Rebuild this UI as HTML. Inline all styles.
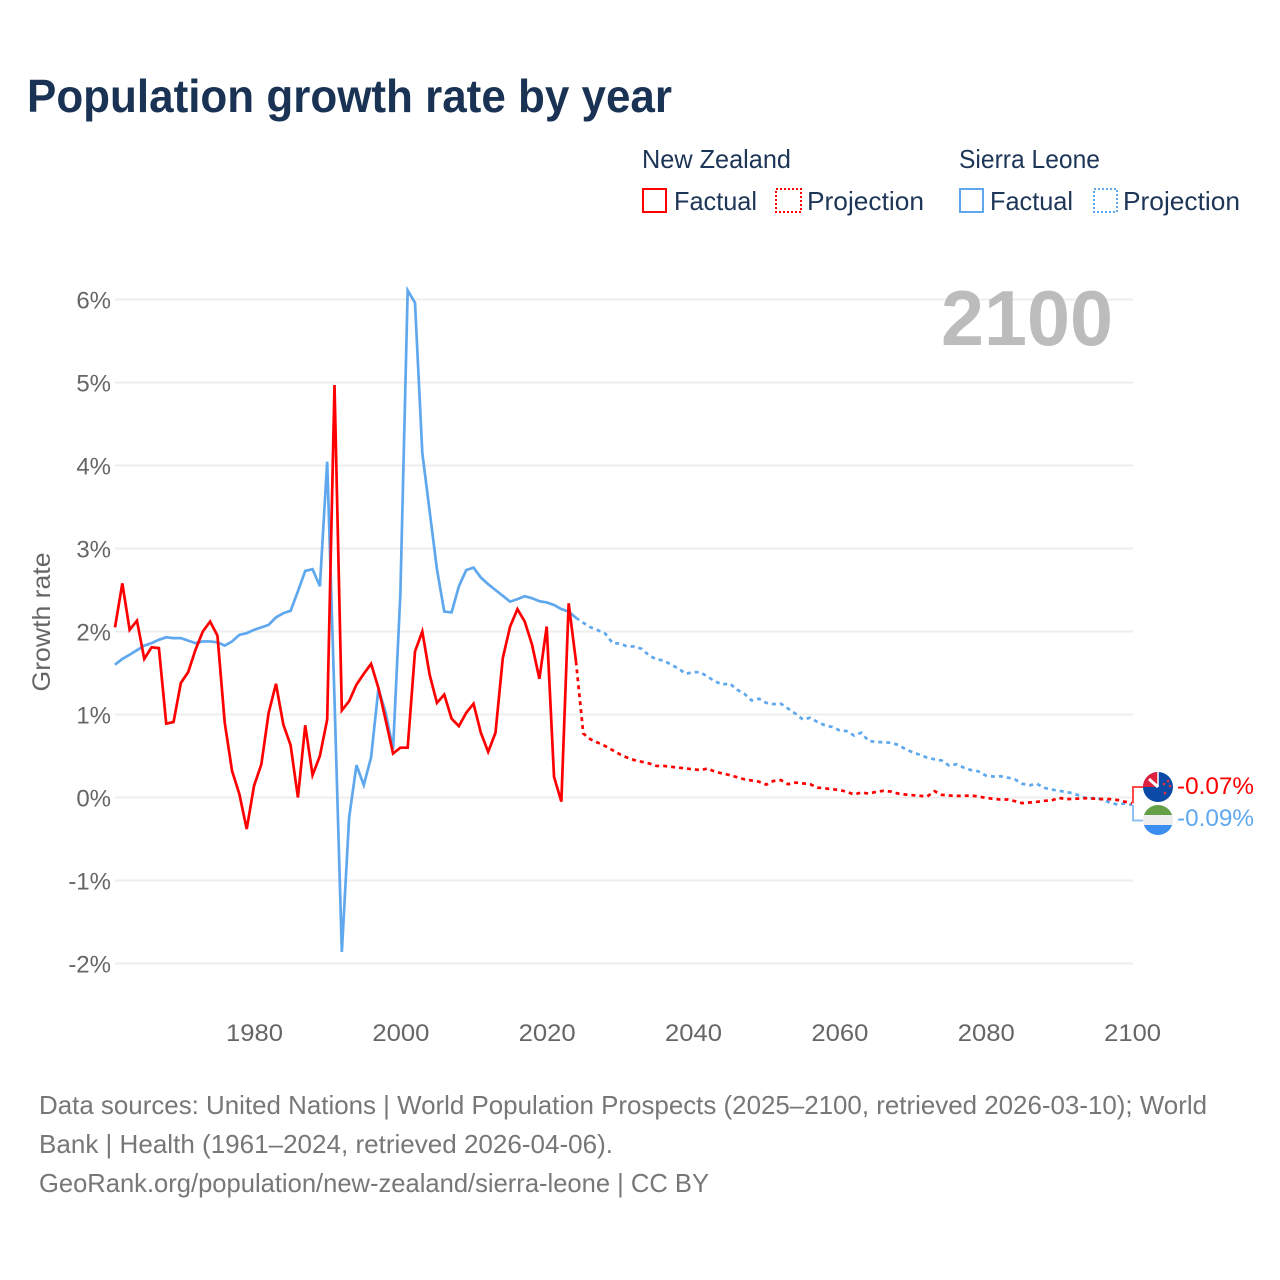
<!DOCTYPE html>
<html lang="en">
<head>
<meta charset="utf-8">
<title>Population growth rate by year</title>
<style>
html,body{margin:0;padding:0;background:#fff;width:1280px;height:1280px;overflow:hidden}
svg{display:block}
text{font-family:"Liberation Sans",sans-serif}
</style>
</head>
<body>
<svg id="chart" xmlns="http://www.w3.org/2000/svg" width="1280" height="1280" viewBox="0 0 1280 1280">
  <defs>
    <clipPath id="flag-clip-nz"><circle cx="1158" cy="787" r="15"/></clipPath>
    <clipPath id="flag-clip-sl"><circle cx="1158" cy="820" r="15"/></clipPath>
  </defs>
  <rect width="1280" height="1280" fill="#ffffff"/>
  <text x="27" y="112" font-size="46" font-weight="700" fill="#1a3254" textLength="645" lengthAdjust="spacingAndGlyphs">Population growth rate by year</text>

  <g font-size="26" fill="#1d3557">
    <text x="642" y="168" textLength="149" lengthAdjust="spacingAndGlyphs">New Zealand</text>
    <text x="959" y="168" textLength="141" lengthAdjust="spacingAndGlyphs">Sierra Leone</text>
    <rect x="643" y="189" width="23" height="23" fill="none" stroke="#ff0000" stroke-width="2"/>
    <text x="674" y="210" textLength="83" lengthAdjust="spacingAndGlyphs">Factual</text>
    <rect x="776" y="189" width="25" height="23" fill="none" stroke="#ff0000" stroke-width="2" stroke-dasharray="2 2"/>
    <text x="807" y="210" textLength="117" lengthAdjust="spacingAndGlyphs">Projection</text>
    <rect x="960" y="189" width="23" height="23" fill="none" stroke="#5fa8ee" stroke-width="2"/>
    <text x="990" y="210" textLength="83" lengthAdjust="spacingAndGlyphs">Factual</text>
    <rect x="1094" y="189" width="23" height="23" fill="none" stroke="#5fa8ee" stroke-width="2" stroke-dasharray="2 2"/>
    <text x="1123" y="210" textLength="117" lengthAdjust="spacingAndGlyphs">Projection</text>
  </g>

  <g id="grid"></g>
  <g id="y-axis"></g>
  <g id="x-axis"></g>
  <text transform="translate(50,622) rotate(-90)" text-anchor="middle" font-size="25" fill="#666666" textLength="139" lengthAdjust="spacingAndGlyphs">Growth rate</text>
  <text x="941" y="345" font-size="78" font-weight="700" fill="#bcbcbc" textLength="172" lengthAdjust="spacingAndGlyphs">2100</text>

  <g id="series"></g>

  <g clip-path="url(#flag-clip-nz)">
    <rect x="1143" y="772" width="30" height="30" fill="#0b4aa6"/>
    <rect x="1143" y="772" width="15" height="15" fill="#e0203f"/>
    <path d="M1149 779 L1158 787" stroke="#ffffff" stroke-width="3"/>
    <path d="M1158 772 L1158 787" stroke="#ffffff" stroke-width="1.5"/>
    <circle cx="1164" cy="784" r="1.3" fill="#e8323c"/>
    <circle cx="1168" cy="781" r="1.3" fill="#e8323c"/>
    <circle cx="1170" cy="786" r="1.3" fill="#e8323c"/>
    <circle cx="1165" cy="793" r="1.3" fill="#e8323c"/>
  </g>
  <g clip-path="url(#flag-clip-sl)">
    <rect x="1143" y="805" width="30" height="10" fill="#64a047"/>
    <rect x="1143" y="815" width="30" height="10" fill="#eeeeee"/>
    <rect x="1143" y="825" width="30" height="10" fill="#3b8df0"/>
  </g>
  <g id="end-labels"></g>

  <g font-size="26" fill="#777777">
    <text x="39" y="1114" textLength="1168" lengthAdjust="spacingAndGlyphs">Data sources: United Nations | World Population Prospects (2025–2100, retrieved 2026-03-10); World</text>
    <text x="39" y="1153" textLength="574" lengthAdjust="spacingAndGlyphs">Bank | Health (1961–2024, retrieved 2026-04-06).</text>
    <text x="39" y="1192" textLength="670" lengthAdjust="spacingAndGlyphs">GeoRank.org/population/new-zealand/sierra-leone | CC BY</text>
  </g>
</svg>
<script>
var factualStartYear = 1961;
var projectionStartYear = 2024;
var yTicks = [6, 5, 4, 3, 2, 1, 0, -1, -2];
var xTicks = [1980, 2000, 2020, 2040, 2060, 2080, 2100];
var nzFactual = [2.05,2.58,2.02,2.13,1.67,1.81,1.80,0.89,0.91,1.38,1.51,1.78,2.00,2.12,1.95,0.90,0.32,0.04,-0.38,0.14,0.40,1.02,1.37,0.88,0.63,0.00,0.87,0.27,0.50,0.94,4.97,1.05,1.16,1.36,1.49,1.61,1.32,0.93,0.53,0.60,0.60,1.76,2.00,1.48,1.14,1.24,0.95,0.86,1.02,1.13,0.78,0.55,0.78,1.68,2.06,2.27,2.12,1.84,1.43,2.06,0.25,-0.05,2.34,1.64];
var nzProjection = [1.64,0.77,0.70,0.66,0.62,0.57,0.52,0.48,0.45,0.43,0.41,0.38,0.38,0.37,0.36,0.35,0.34,0.33,0.35,0.31,0.29,0.27,0.245,0.22,0.205,0.19,0.155,0.20,0.21,0.16,0.18,0.17,0.16,0.12,0.11,0.10,0.09,0.07,0.036,0.06,0.048,0.068,0.08,0.072,0.048,0.036,0.028,0.02,0.012,0.076,0.032,0.024,0.02,0.02,0.024,0.012,-0.004,-0.016,-0.024,-0.024,-0.044,-0.068,-0.06,-0.052,-0.04,-0.036,-0.004,-0.02,-0.016,-0.012,-0.008,-0.016,-0.02,-0.02,-0.03,-0.05,-0.07];
var slFactual = [1.60,1.67,1.72,1.775,1.83,1.86,1.90,1.93,1.92,1.92,1.89,1.86,1.88,1.88,1.87,1.83,1.88,1.96,1.98,2.02,2.05,2.08,2.17,2.22,2.25,2.485,2.73,2.75,2.545,4.045,1.18,-1.86,-0.24,0.39,0.15,0.485,1.31,1.02,0.58,2.45,6.11,5.96,4.15,3.45,2.75,2.24,2.23,2.545,2.74,2.77,2.65,2.57,2.50,2.43,2.36,2.39,2.425,2.40,2.365,2.35,2.32,2.27,2.24,2.165];
var slProjection = [2.165,2.105,2.05,2.015,1.975,1.86,1.855,1.82,1.82,1.79,1.71,1.665,1.65,1.60,1.555,1.49,1.51,1.51,1.455,1.40,1.36,1.375,1.30,1.25,1.17,1.19,1.14,1.125,1.13,1.07,1.01,0.94,0.96,0.91,0.87,0.85,0.81,0.80,0.747,0.78,0.68,0.67,0.665,0.66,0.635,0.585,0.545,0.515,0.48,0.46,0.445,0.385,0.40,0.36,0.33,0.315,0.265,0.253,0.257,0.24,0.217,0.165,0.148,0.165,0.117,0.096,0.08,0.068,0.048,0.016,-0.016,-0.004,-0.024,-0.064,-0.084,-0.072,-0.09];

var SVGNS = 'http://www.w3.org/2000/svg';
function xScale(year) { return 115 + (year - 1961) * 7.317; }
function yScale(v) { return 797.5 - v * 83; }
function make(tag, attrs, parent) {
  var el = document.createElementNS(SVGNS, tag);
  for (var k in attrs) { el.setAttribute(k, attrs[k]); }
  parent.appendChild(el);
  return el;
}
function pointsFor(values, startYear) {
  return values.map(function (v, i) {
    return xScale(startYear + i).toFixed(2) + ',' + yScale(v).toFixed(2);
  }).join(' ');
}

var grid = document.getElementById('grid');
var yAxis = document.getElementById('y-axis');
var xAxis = document.getElementById('x-axis');
var series = document.getElementById('series');
var endLabels = document.getElementById('end-labels');

yTicks.forEach(function (t) {
  var line = make('line', {x1: 115, x2: 1133, y1: yScale(t), y2: yScale(t), stroke: '#eeeeee', 'stroke-width': 2}, grid);
  
  
  var label = make('text', {x: 111, y: yScale(t) + 9, 'text-anchor': 'end', 'font-size': 24, fill: '#666666'}, yAxis);
  
  
  label.textContent = t + '%';
});

xTicks.forEach(function (t) {
  var label = make('text', {x: xScale(t) + 0.5, y: 1041, 'text-anchor': 'middle', 'font-size': 24, fill: '#666666', textLength: 57, lengthAdjust: 'spacingAndGlyphs'}, xAxis);
  
  
  label.textContent = t;
});

var RED = '#ff0000';
var BLUE = '#5fa8ee';

var slFactualLine = make('polyline', {points: pointsFor(slFactual, factualStartYear), fill: 'none', stroke: BLUE, 'stroke-width': 2.7, 'stroke-linejoin': 'miter'}, series);



var nzFactualLine = make('polyline', {points: pointsFor(nzFactual, factualStartYear), fill: 'none', stroke: RED, 'stroke-width': 2.7, 'stroke-linejoin': 'miter'}, series);



var slProjectionLine = make('polyline', {points: pointsFor(slProjection, projectionStartYear), fill: 'none', stroke: BLUE, 'stroke-width': 2.7, 'stroke-dasharray': '4 4'}, series);



var nzProjectionLine = make('polyline', {points: pointsFor(nzProjection, projectionStartYear), fill: 'none', stroke: RED, 'stroke-width': 2.7, 'stroke-dasharray': '4 4'}, series);



var nzLast = nzProjection[nzProjection.length - 1];
var slLast = slProjection[slProjection.length - 1];

var nzConnector = make('polyline', {points: '1133,' + yScale(nzLast).toFixed(1) + ' 1133,787 1143,787', fill: 'none', stroke: '#ff4a4a', 'stroke-width': 2}, endLabels);



var slConnector = make('polyline', {points: '1133,' + yScale(slLast).toFixed(1) + ' 1133,820.5 1143,820.5', fill: 'none', stroke: '#8fc1f2', 'stroke-width': 2}, endLabels);



var nzEndLabel = make('text', {x: 1177, y: 794, 'font-size': 24, fill: RED, textLength: 77, lengthAdjust: 'spacingAndGlyphs'}, endLabels);


nzEndLabel.textContent = nzLast.toFixed(2) + '%';

var slEndLabel = make('text', {x: 1177, y: 826, 'font-size': 24, fill: BLUE, textLength: 77, lengthAdjust: 'spacingAndGlyphs'}, endLabels);


slEndLabel.textContent = slLast.toFixed(2) + '%';
</script>
</body>
</html>
